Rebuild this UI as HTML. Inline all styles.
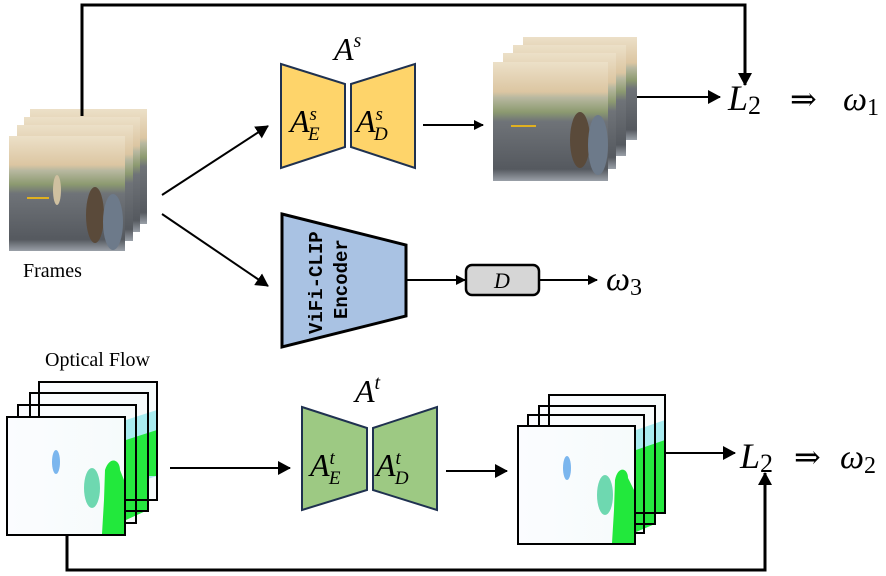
<!DOCTYPE html>
<html><head><meta charset="utf-8"><style>
html,body{margin:0;padding:0;background:#fff;width:886px;height:576px;overflow:hidden}
svg{display:block}
.m{font-family:"Liberation Serif","DejaVu Serif",serif;font-style:italic}
.r{font-family:"Liberation Serif","DejaVu Serif",serif}
</style></head><body>
<svg width="886" height="576" viewBox="0 0 886 576" xmlns="http://www.w3.org/2000/svg">
<defs>
<marker id="a" markerWidth="10" markerHeight="10" refX="9" refY="5" orient="auto" markerUnits="userSpaceOnUse"><path d="M0,0 L10,5 L0,10 z" fill="#000"/></marker>
<marker id="b" markerWidth="14" markerHeight="14" refX="12" refY="7" orient="auto" markerUnits="userSpaceOnUse"><path d="M0,0 L13,7 L0,14 z" fill="#000"/></marker>
<linearGradient id="st" x1="0" y1="0" x2="0" y2="1">
<stop offset="0" stop-color="#ece0c8"/><stop offset="0.25" stop-color="#dcc6a2"/><stop offset="0.3" stop-color="#b8b8a0"/><stop offset="0.42" stop-color="#8c9a70"/><stop offset="0.5" stop-color="#6f7378"/><stop offset="0.9" stop-color="#55595f"/><stop offset="1" stop-color="#9aa0a8"/>
</linearGradient>
<linearGradient id="fl" x1="0" y1="0" x2="1" y2="0">
<stop offset="0" stop-color="#fbfcff"/><stop offset="1" stop-color="#f6fbfb"/>
</linearGradient>
</defs>

<g>
<rect x="30" y="109" width="117" height="115" fill="url(#st)"/>
<rect x="24" y="117" width="116" height="115" fill="url(#st)"/>
<rect x="17" y="125" width="116" height="116" fill="url(#st)"/>
<rect x="9" y="136" width="116" height="115" fill="url(#st)"/>
<rect x="27" y="197" width="22" height="2" fill="#e0b020"/>
<ellipse cx="95" cy="215" rx="9" ry="28" fill="#5a4a3a"/>
<ellipse cx="113" cy="222" rx="10" ry="28" fill="#6d7a8a"/>
<ellipse cx="57" cy="190" rx="4" ry="15" fill="#cfc0a0"/>
</g>
<text x="23" y="277" class="r" font-size="20">Frames</text>

<polyline points="82,116 82,5 745,5 745,85" fill="none" stroke="#000" stroke-width="3" marker-end="url(#b)"/>

<line x1="162" y1="195" x2="268" y2="126" stroke="#000" stroke-width="2" marker-end="url(#b)"/>
<line x1="162" y1="214" x2="268" y2="286" stroke="#000" stroke-width="2" marker-end="url(#b)"/>

<polygon points="281,64 345,84 345,147 281,168" fill="#fed46a" stroke="#1f3150" stroke-width="2"/>
<polygon points="351,84 415,64 415,168 351,147" fill="#fed46a" stroke="#1f3150" stroke-width="2"/>
<text x="334" y="60" class="m" font-size="32">A<tspan font-size="20" dy="-13">s</tspan></text>
<text x="290" y="132" class="m" font-size="32">A<tspan font-size="19" dy="-12">s</tspan><tspan font-size="19" dx="-9" dy="20">E</tspan></text>
<text x="356" y="132" class="m" font-size="32">A<tspan font-size="19" dy="-12">s</tspan><tspan font-size="19" dx="-9" dy="20">D</tspan></text>

<line x1="423" y1="125" x2="483" y2="125" stroke="#000" stroke-width="2" marker-end="url(#a)"/>

<g>
<rect x="523" y="37" width="114" height="103" fill="url(#st)"/>
<rect x="513" y="45" width="113" height="111" fill="url(#st)"/>
<rect x="503" y="53" width="113" height="116" fill="url(#st)"/>
<rect x="493" y="62" width="115" height="119" fill="url(#st)"/>
<rect x="511" y="125" width="25" height="2" fill="#e0b020"/>
<ellipse cx="580" cy="140" rx="10" ry="28" fill="#5a4a3a"/>
<ellipse cx="598" cy="145" rx="10" ry="30" fill="#6d7a8a"/>
</g>
<line x1="637" y1="97" x2="720" y2="97" stroke="#000" stroke-width="2" marker-end="url(#b)"/>
<text x="728" y="110" class="m" font-size="36">L<tspan class="r" font-style="normal" font-size="26" dy="4">2</tspan></text>
<text x="790" y="110" class="r" font-size="32">⇒</text>
<text x="843" y="110" class="m" font-size="34">ω<tspan class="r" font-style="normal" font-size="24" dy="5">1</tspan></text>

<polygon points="282,214 406,245 406,316 282,347" fill="#a9c2e3" stroke="#000" stroke-width="3"/>
<text transform="translate(322,334) rotate(-90)" font-family="Liberation Mono,monospace" font-weight="bold" font-size="19">ViFi-CLIP</text>
<text transform="translate(347,319) rotate(-90)" font-family="Liberation Mono,monospace" font-weight="bold" font-size="19">Encoder</text>
<line x1="407" y1="280" x2="465" y2="280" stroke="#000" stroke-width="2" marker-end="url(#a)"/>
<rect x="466" y="265" width="73" height="30" rx="6" fill="#d6d6d6" stroke="#000" stroke-width="2.5"/>
<text x="494" y="288" class="m" font-size="22">D</text>
<line x1="540" y1="280" x2="597" y2="280" stroke="#000" stroke-width="2" marker-end="url(#a)"/>
<text x="606" y="290" class="m" font-size="34">ω<tspan class="r" font-style="normal" font-size="24" dy="5">3</tspan></text>

<text x="45" y="366" class="r" font-size="20">Optical Flow</text>
<rect x="39" y="382" width="118" height="118" fill="url(#fl)"/>
<rect x="30" y="393" width="118" height="118" fill="url(#fl)"/>
<rect x="18" y="405" width="118" height="118" fill="url(#fl)"/>
<path d="M126,420 L157,410 L157,476 L126,486 z" fill="#a8ecf0"/>
<path d="M126,440 L157,430 L157,476 L148,476 L148,510 L126,520 z" fill="#25e83f"/>
<g fill="none" stroke="#000" stroke-width="2">
<rect x="39" y="382" width="118" height="118"/>
<rect x="30" y="393" width="118" height="118"/>
<rect x="18" y="405" width="118" height="118"/>
</g>
<rect x="7" y="417" width="118" height="118" fill="url(#fl)"/>
<path d="M105,470 C110,455 120,460 120,470 L124,480 L124,534 L102,534 L104,500 z" fill="#22e83c"/>
<ellipse cx="92" cy="488" rx="8" ry="20" fill="#6ed8b0"/>
<ellipse cx="56" cy="462" rx="4" ry="12" fill="#7bb6ee"/>
<rect x="7" y="417" width="118" height="118" fill="none" stroke="#000" stroke-width="2"/>

<line x1="170" y1="468" x2="290" y2="468" stroke="#000" stroke-width="2" marker-end="url(#b)"/>

<polygon points="302,407 367,428 367,490 302,510" fill="#9dc983" stroke="#1f3150" stroke-width="2"/>
<polygon points="373,428 437,407 437,510 373,490" fill="#9dc983" stroke="#1f3150" stroke-width="2"/>
<text x="355" y="402" class="m" font-size="32">A<tspan font-size="20" dy="-13">t</tspan></text>
<text x="310" y="476" class="m" font-size="32">A<tspan font-size="19" dy="-12">t</tspan><tspan font-size="19" dx="-6" dy="20">E</tspan></text>
<text x="376" y="476" class="m" font-size="32">A<tspan font-size="19" dy="-12">t</tspan><tspan font-size="19" dx="-6" dy="20">D</tspan></text>

<line x1="446" y1="471" x2="507" y2="471" stroke="#000" stroke-width="2" marker-end="url(#b)"/>

<rect x="549" y="395" width="116" height="118" fill="url(#fl)"/>
<rect x="539" y="406" width="116" height="118" fill="url(#fl)"/>
<rect x="528" y="415" width="116" height="118" fill="url(#fl)"/>
<path d="M636,430 L665,420 L665,470 L636,480 z" fill="#a8ecf0"/>
<path d="M636,450 L665,440 L665,513 L655,513 L655,524 L636,532 z" fill="#25e83f"/>
<g fill="none" stroke="#000" stroke-width="2">
<rect x="549" y="395" width="116" height="118"/>
<rect x="539" y="406" width="116" height="118"/>
<rect x="528" y="415" width="116" height="118"/>
</g>
<rect x="518" y="426" width="117" height="118" fill="url(#fl)"/>
<path d="M615,480 C618,465 628,468 628,478 L634,490 L634,543 L612,543 L614,510 z" fill="#22e83c"/>
<ellipse cx="605" cy="495" rx="8" ry="20" fill="#6ed8b0"/>
<ellipse cx="567" cy="468" rx="4" ry="12" fill="#7bb6ee"/>
<rect x="518" y="426" width="117" height="118" fill="none" stroke="#000" stroke-width="2"/>

<line x1="666" y1="453" x2="735" y2="453" stroke="#000" stroke-width="2" marker-end="url(#b)"/>
<text x="740" y="468" class="m" font-size="36">L<tspan class="r" font-style="normal" font-size="26" dy="4">2</tspan></text>
<text x="794" y="468" class="r" font-size="32">⇒</text>
<text x="840" y="468" class="m" font-size="34">ω<tspan class="r" font-style="normal" font-size="24" dy="5">2</tspan></text>

<polyline points="67,535 67,570 765,570 765,473" fill="none" stroke="#000" stroke-width="3" marker-end="url(#b)"/>
</svg>
</body></html>
